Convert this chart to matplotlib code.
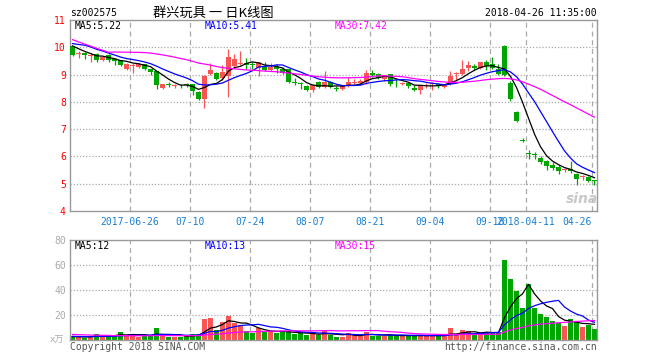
import numpy as np
import matplotlib
matplotlib.use('Agg')
import matplotlib.pyplot as plt

# ---------------- data ----------------
open_ = [10.03, 9.75, 9.80, 9.67, 9.77, 9.53, 9.72, 9.56, 9.52, 9.19,
         9.32, 9.29, 9.37, 9.20, 9.12, 8.52, 8.65, 8.57, 8.62, 8.64,
         8.64, 8.36, 8.11, 9.01, 9.05, 8.89, 8.95, 9.33, 9.39, 9.44,
         9.40, 9.25, 9.26, 9.16, 9.28, 9.22, 9.19, 8.71, 8.66, 8.58,
         8.45, 8.72, 8.54, 8.72, 8.50, 8.46, 8.58, 8.69, 8.70, 8.72,
         9.07, 9.03, 8.82, 9.01, 8.73, 8.67, 8.70, 8.52, 8.43, 8.60,
         8.65, 8.65, 8.55, 8.64, 9.02, 9.01, 9.23, 9.32, 9.23, 9.47,
         9.40, 9.22, 10.05, 8.68, 7.62, 6.56, 6.13, 6.08, 5.94, 5.85,
         5.67, 5.60, 5.49, 5.55, 5.37, 5.23, 5.25, 5.11]
high = [10.05, 9.86, 9.82, 9.78, 9.80, 9.68, 9.76, 9.62, 9.55, 9.42,
        9.42, 9.44, 9.40, 9.22, 9.14, 8.66, 8.73, 8.67, 8.67, 8.68,
        8.66, 8.40, 8.97, 9.42, 9.10, 9.36, 9.95, 9.75, 9.88, 9.62,
        9.46, 9.47, 9.46, 9.42, 9.40, 9.26, 9.21, 8.86, 8.73, 8.62,
        8.66, 8.75, 9.12, 8.75, 8.58, 8.62, 8.90, 8.82, 8.84, 9.15,
        9.16, 9.07, 9.00, 9.03, 8.82, 8.74, 8.72, 8.61, 8.62, 8.70,
        8.72, 8.70, 8.63, 9.14, 9.11, 9.52, 9.50, 9.38, 9.47, 9.55,
        9.66, 9.38, 10.08, 8.78, 7.66, 6.68, 6.25, 6.17, 6.00, 5.88,
        5.80, 5.67, 5.58, 5.82, 5.40, 5.33, 5.28, 5.12]
low = [9.68, 9.62, 9.58, 9.46, 9.45, 9.50, 9.45, 9.34, 9.30, 9.17,
       9.07, 9.25, 9.18, 9.00, 8.47, 8.46, 8.55, 8.49, 8.52, 8.56,
       8.24, 8.08, 7.76, 8.97, 8.80, 8.80, 8.18, 9.25, 9.36, 9.22,
       9.20, 8.95, 9.14, 9.12, 9.07, 9.02, 8.68, 8.61, 8.46, 8.38,
       8.36, 8.52, 8.50, 8.52, 8.40, 8.42, 8.55, 8.61, 8.61, 8.64,
       8.91, 8.85, 8.77, 8.58, 8.54, 8.61, 8.50, 8.39, 8.29, 8.52,
       8.43, 8.52, 8.50, 8.61, 8.76, 8.98, 9.12, 9.18, 9.21, 9.15,
       9.22, 8.98, 8.95, 8.02, 7.25, 6.54, 5.91, 5.92, 5.71, 5.50,
       5.52, 5.34, 5.42, 5.40, 4.96, 5.13, 5.06, 4.94]
close = [9.71, 9.78, 9.73, 9.69, 9.52, 9.66, 9.54, 9.50, 9.34, 9.40,
         9.35, 9.40, 9.22, 9.08, 8.61, 8.64, 8.63, 8.59, 8.60, 8.62,
         8.39, 8.09, 8.93, 9.16, 8.82, 9.09, 9.63, 9.56, 9.41, 9.36,
         9.36, 9.45, 9.18, 9.29, 9.21, 9.07, 8.71, 8.69, 8.64, 8.42,
         8.63, 8.55, 8.72, 8.55, 8.48, 8.58, 8.72, 8.71, 8.77, 9.07,
         8.99, 8.89, 8.97, 8.64, 8.71, 8.69, 8.58, 8.44, 8.61, 8.62,
         8.67, 8.63, 8.61, 8.95, 9.04, 9.22, 9.35, 9.23, 9.47, 9.31,
         9.25, 9.03, 8.98, 8.09, 7.29, 6.55, 6.10, 6.06, 5.78, 5.65,
         5.56, 5.45, 5.52, 5.45, 5.18, 5.28, 5.09, 5.10]
volume = [3.0, 2.1, 2.0, 3.2, 4.8, 3.2, 3.2, 3.2, 6.7, 4.0,
          4.8, 2.7, 3.2, 3.2, 9.9, 3.2, 2.7, 2.7, 2.7, 3.2,
          4.8, 4.8, 16.8, 17.9, 8.0, 14.7, 19.5, 13.9, 12.0, 7.5,
          5.9, 9.3, 6.7, 7.2, 5.3, 6.1, 7.5, 4.8, 5.3, 4.0,
          4.8, 4.0, 7.5, 4.0, 2.7, 2.7, 5.9, 3.2, 3.2, 6.7,
          3.5, 3.5, 3.5, 4.0, 3.5, 3.2, 3.5, 3.2, 4.0, 3.5,
          3.5, 3.5, 3.2, 9.9, 4.0, 8.0, 7.2, 4.0, 5.3, 6.7,
          6.7, 6.7, 64.0, 48.8, 39.2, 25.9, 44.8, 25.9, 20.8, 18.7,
          15.5, 13.3, 11.2, 16.5, 14.7, 10.7, 12.0, 8.8]
# closes / volumes of the 29 sessions before the window (only feed the MA lines)
prior_close = [12.2, 12.1, 12.0, 11.9, 11.85, 11.7,
               9.3, 9.4, 9.5, 9.45, 9.5, 9.5, 9.55,
               9.6, 9.7, 9.8, 9.9, 10.0, 10.0, 10.1, 10.1, 10.0,
               10.3, 10.4, 10.3, 10.3, 10.2, 10.1, 9.95]
prior_volume = [7.5, 7.0, 7.5, 7.0, 6.5, 7.0, 7.0, 6.5, 6.0, 6.0,
                4.0, 3.5, 4.0, 3.5, 3.0, 4.0, 3.5, 3.0, 3.5, 4.0,
                3.5, 3.0, 3.0, 3.5, 3.0, 2.5, 3.0, 2.5, 2.5]
tick_idx = [10, 20, 30, 40, 50, 60, 70, 76, 87]
tick_labels = ['2017-06-26', '07-10', '07-24', '08-07', '08-21', '09-04',
               '09-18', '2018-04-11', '04-26']
ma_windows = [5, 10, 30]
price_ma_labels = ['MA5:5.22', 'MA10:5.41', 'MA30:7.42']
vol_ma_labels = ['MA5:12', 'MA10:13', 'MA30:15']
code = 'sz002575'
title = '群兴玩具 一 日K线图'
timestamp = '2018-04-26 11:35:00'

# ---------------- styling ----------------
RED = '#fa5555'
GREEN = '#00a600'
MA_COLORS = ['#000000', '#0000ff', '#ff00ff']
GRID = '#aaaaaa'
SPINE = '#999999'
MONO = 'DejaVu Sans Mono'

W, H = 660, 360
fig = plt.figure(figsize=(W / 100, H / 100), dpi=100)
fig.patch.set_facecolor('white')

def fx(px):
    return px / W

def fy(py):
    return 1 - py / H

ax = fig.add_axes([fx(70), fy(211), fx(597 - 70), (211 - 20) / H])
axv = fig.add_axes([fx(70), fy(340), fx(597 - 70), (340 - 240) / H])

o = np.array(open_); h = np.array(high); l = np.array(low); c = np.array(close)
v = np.array(volume)
n = len(c)
x = np.arange(n)
up = c > o
cols = np.where(up, RED, GREEN)

def moving_avg(series, prior, w):
    full = np.r_[np.array(prior), series]
    m = np.convolve(full, np.ones(w) / w, mode='valid')
    return m[-len(series):]

off = 5 / 12.0
xlim = (-off, n - 1 + off)

for a in (ax, axv):
    a.set_xlim(*xlim)
    for s in a.spines.values():
        s.set_color(SPINE)
        s.set_linewidth(1.0)
    a.tick_params(length=0)
    for t in tick_idx:
        a.axvline(t - off, color=GRID, lw=0.9, ls=(0, (4, 3)), zorder=0)

# ---- price panel ----
ax.set_ylim(4, 11)
for yv in range(5, 11):
    ax.axhline(yv, color=GRID, lw=0.9, ls=(0, (1, 1.5)), zorder=0)
ax.vlines(x, l, h, colors=cols, lw=0.9, zorder=2)
body_bot = np.minimum(o, c)
body_h = np.maximum(np.abs(c - o), 0.035)
ax.bar(x, body_h, bottom=body_bot, width=0.8, color=cols, lw=0, zorder=3)
for w_, col in zip(ma_windows, MA_COLORS):
    ax.plot(x, moving_avg(c, prior_close, w_), color=col, lw=0.9, zorder=4)

ax.set_yticks(range(4, 12))
ax.set_yticklabels([str(t) for t in range(4, 12)], color='#ff0000',
                   fontfamily=MONO, fontsize=7)
ax.tick_params(axis='y', pad=3)
ax.set_xticks([t - off for t in tick_idx])
lbls = ax.set_xticklabels(tick_labels, color='#1a7fd4', fontfamily=MONO, fontsize=7)
lbls[-1].set_ha('right')
ax.tick_params(axis='x', pad=4)

for lab, col, px in zip(price_ma_labels, MA_COLORS, [75, 205, 335]):
    fig.text(fx(px), fy(26), lab, color=col, fontfamily=MONO, fontsize=7,
             va='center', ha='left')

# sina watermark
fig.text(fx(582), fy(199), 'sina', color='#c8c8c8', fontsize=10,
         fontweight='bold', fontstyle='italic', ha='center', va='center')

# ---- volume panel ----
axv.set_ylim(0, 80)
for yv in (20, 40, 60):
    axv.axhline(yv, color=GRID, lw=0.9, ls=(0, (1, 1.5)), zorder=0)
axv.bar(x, v, width=0.8, color=cols, lw=0, zorder=2)
for w_, col in zip(ma_windows, MA_COLORS):
    axv.plot(x, moving_avg(v, prior_volume, w_), color=col, lw=0.9, zorder=3)
axv.set_yticks([20, 40, 60, 80])
axv.set_yticklabels(['20', '40', '60', '80'], color='#aaaaaa',
                    fontfamily=MONO, fontsize=7)
axv.tick_params(axis='y', pad=3)
axv.set_xticks([])
for lab, col, px in zip(vol_ma_labels, MA_COLORS, [75, 205, 335]):
    fig.text(fx(px), fy(246), lab, color=col, fontfamily=MONO, fontsize=7,
             va='center', ha='left')

# ---- header / footer ----
fig.text(fx(70), fy(13), code, fontfamily=MONO, fontsize=7, va='center', ha='left')
fig.text(fx(213), fy(13), title, family=['Noto Sans CJK SC', 'DejaVu Sans'],
         fontsize=9.5, va='center', ha='center')
fig.text(fx(597), fy(13), timestamp, fontfamily=MONO, fontsize=7,
         va='center', ha='right')
fig.text(fx(64), fy(340), 'x万', family=[MONO, 'Noto Sans CJK SC'],
         fontsize=6.5, color='#aaaaaa', va='center', ha='right')
fig.text(fx(70), fy(347), 'Copyright 2018 SINA.COM', fontfamily=MONO,
         fontsize=7, color='#555555', va='center', ha='left')
fig.text(fx(597), fy(347), 'http://finance.sina.com.cn', fontfamily=MONO,
         fontsize=7, color='#555555', va='center', ha='right')

fig.savefig('out.png', dpi=100, facecolor='white')
